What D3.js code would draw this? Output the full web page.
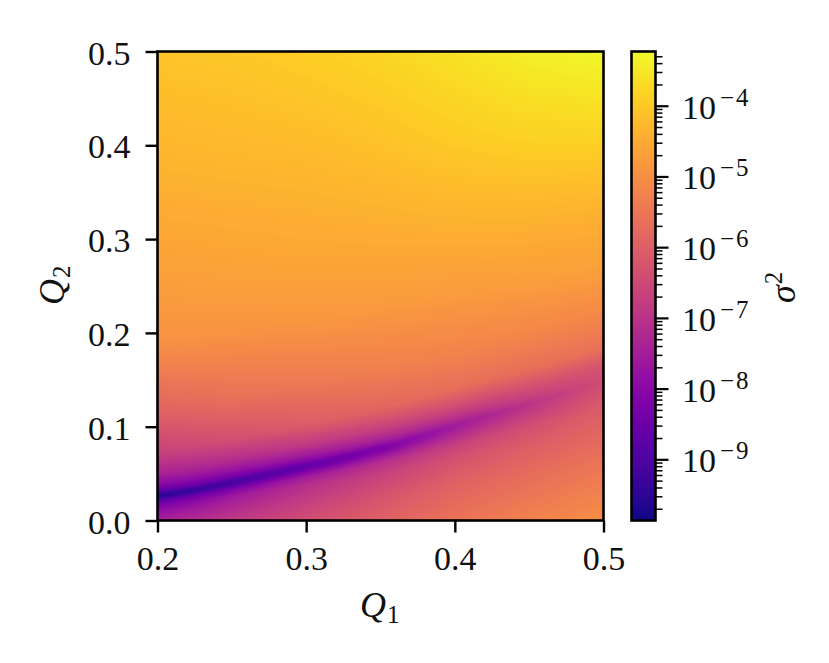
<!DOCTYPE html>
<html><head><meta charset="utf-8">
<script src="https://cdn.jsdelivr.net/npm/d3@7"></script>
<style>
html,body{margin:0;padding:0;background:#fff}
svg{display:block}
text{font-family:"Liberation Serif",serif;fill:#111}
</style></head><body>
<svg id="c" width="829" height="663"></svg>
<script>
// Q1 positions and the Q2 of the dark valley
const valleyQ1 = [.20,.22,.24,.26,.28,.30,.32,.34,.36,.38,.40,.42,.44,.46,.48,.50];
const valleyQ2 = [.026,.031,.037,.044,.051,.058,.065,.073,.081,.091,.101,.111,.120,.129,.139,.149];
// table columns
const q1Columns = [.20,.25,.30,.35,.40,.45,.50];
// table rows: -1 = Q2 of 0, 0 = on the valley, 1 = Q2 of 0.5
const bandRows = [-1,-.6,-.35,-.2,-.1,-.05,0,.006,.012,.025,.05,.1,.2,.35,.5,.75,1];
const logSigma2 = [
 [-7.40,-6.85,-6.35,-5.95,-5.55,-5.25,-5.00],
 [-7.85,-7.30,-6.80,-6.35,-5.95,-5.70,-5.50],
 [-8.30,-7.65,-7.10,-6.70,-6.30,-6.05,-5.85],
 [-8.75,-8.10,-7.55,-7.10,-6.70,-6.35,-6.05],
 [-9.20,-8.65,-8.15,-7.70,-7.20,-6.70,-6.25],
 [-9.45,-9.00,-8.55,-8.05,-7.45,-6.88,-6.35],
 [-9.55,-9.10,-8.65,-8.20,-7.55,-7.00,-6.40],
 [-9.25,-8.90,-8.50,-8.05,-7.45,-6.92,-6.39],
 [-8.65,-8.40,-8.10,-7.75,-7.30,-6.82,-6.38],
 [-8.00,-7.85,-7.60,-7.30,-6.98,-6.62,-6.33],
 [-7.40,-7.20,-6.90,-6.70,-6.45,-6.30,-6.20],
 [-6.65,-6.35,-6.05,-5.85,-5.65,-5.65,-5.60],
 [-5.85,-5.60,-5.45,-5.30,-5.20,-5.15,-5.15],
 [-4.95,-4.90,-4.85,-4.82,-4.78,-4.72,-4.65],
 [-4.68,-4.62,-4.56,-4.52,-4.45,-4.40,-4.40],
 [-4.32,-4.27,-4.22,-4.12,-3.97,-3.85,-3.80],
 [-4.05,-4.00,-3.90,-3.78,-3.58,-3.38,-3.25]
];
const q1Ticks = [.2,.3,.4,.5];
const q2Ticks = [0,.1,.2,.3,.4,.5];
const cbarDecades = [-9,-8,-7,-6,-5,-4];
const cbarDomain = [-9.858,-3.226];

const svg = d3.select("#c");
const L=157.5,R=603.5,T=51.5,B=520.5;
const x = d3.scaleLinear().domain([.2,.5]).range([L,R]);
const y = d3.scaleLinear().domain([0,.5]).range([B,T]);
const color = d3.scaleSequential(d3.interpolatePlasma).domain(cbarDomain);

// heat map
const valley = d3.scaleLinear().domain(valleyQ1).range(valleyQ2).clamp(true);
const rowIdx = d3.scaleLinear().domain(bandRows).range(d3.range(bandRows.length)).clamp(true);
const colIdx = d3.scaleLinear().domain(q1Columns).range(d3.range(q1Columns.length)).clamp(true);
const X0=Math.floor(L),Y0=Math.floor(T),W=Math.ceil(R)-X0,H=Math.ceil(B)-Y0;
const cv=document.createElement("canvas");cv.width=W;cv.height=H;
const ctx=cv.getContext("2d");const img=ctx.createImageData(W,H);
for(let j=0;j<H;j++)for(let i=0;i<W;i++){
  const q1=x.invert(X0+i+.5),q2=y.invert(Y0+j+.5),v=valley(q1);
  const band=d3.scaleLinear().domain([0,v,.5]).range([-1,0,1])(q2);
  const rf=rowIdx(band),cf=colIdx(q1);
  const r0=Math.min(Math.floor(rf),bandRows.length-2),c0=Math.min(Math.floor(cf),q1Columns.length-2);
  const a=rf-r0,b=cf-c0;
  const val=(1-a)*((1-b)*logSigma2[r0][c0]+b*logSigma2[r0][c0+1])+a*((1-b)*logSigma2[r0+1][c0]+b*logSigma2[r0+1][c0+1]);
  const col=d3.rgb(color(val));const k=(j*W+i)*4;
  img.data[k]=col.r;img.data[k+1]=col.g;img.data[k+2]=col.b;img.data[k+3]=255;
}
ctx.putImageData(img,0,0);
svg.append("image").attr("x",X0).attr("y",Y0).attr("width",W).attr("height",H).attr("href",cv.toDataURL());

// axes
const style=(g)=>{g.selectAll(".domain").remove();
  g.selectAll("line").attr("stroke","#000").attr("stroke-width",2.4);
  g.selectAll("text").attr("font-size",34).attr("fill","#111");};
svg.append("g").attr("transform",`translate(0,${B})`)
  .call(d3.axisBottom(x).tickValues(q1Ticks).tickSize(12).tickFormat(d3.format(".1f")))
  .call(style).selectAll("text").attr("y",49.5).attr("dy",0);
svg.append("g").attr("transform",`translate(${L},0)`)
  .call(d3.axisLeft(y).tickValues(q2Ticks).tickSize(12).tickFormat(d3.format(".1f")))
  .call(style).selectAll("text").attr("x",-27).attr("y",12.5).attr("dy",0);
svg.append("rect").attr("x",L).attr("y",T).attr("width",R-L).attr("height",B-T)
  .attr("fill","none").attr("stroke","#000").attr("stroke-width",2.6);

// axis titles
const mathLabel=(sel,main,sub)=>{
  sel.append("tspan").attr("font-style","italic").attr("font-size",36).text(main);
  sel.append("tspan").attr("font-size",25).attr("dy",6).attr("dx",1).text(sub);
};
svg.append("text").attr("x",360).attr("y",617).call(mathLabel,"Q","1");
svg.append("text").attr("transform","translate(64,305) rotate(-90)").call(mathLabel,"Q","2");

// colour bar
const cy=d3.scaleLinear().domain(cbarDomain).range([B,T]);
const cbX0=631.5,cbX1=655.5;
svg.append("g").selectAll("rect").data(d3.range(Y0,Y0+H)).join("rect")
  .attr("x",cbX0).attr("width",cbX1-cbX0).attr("y",d=>d).attr("height",1)
  .attr("shape-rendering","crispEdges")
  .attr("fill",d=>color(cy.invert(d+.5)));
const minor=[];
for(let d=-10;d<=-4;d++)for(let m=2;m<=9;m++){const t=d+Math.log10(m);if(t>cbarDomain[0]&&t<cbarDomain[1])minor.push(t);}
svg.append("g").selectAll("line").data(minor).join("line")
  .attr("x1",cbX1).attr("x2",cbX1+7).attr("y1",d=>cy(d)).attr("y2",d=>cy(d))
  .attr("stroke","#000").attr("stroke-width",1.5);
svg.append("g").selectAll("line").data(cbarDecades).join("line")
  .attr("x1",cbX1).attr("x2",cbX1+13).attr("y1",d=>cy(d)).attr("y2",d=>cy(d))
  .attr("stroke","#000").attr("stroke-width",2.2);
svg.append("rect").attr("x",cbX0).attr("y",T).attr("width",cbX1-cbX0).attr("height",B-T)
  .attr("fill","none").attr("stroke","#000").attr("stroke-width",2.6);
const cl=svg.append("g").selectAll("text").data(cbarDecades).join("text")
  .attr("x",682).attr("y",d=>cy(d)+12.5);
cl.append("tspan").attr("font-size",34).text("10");
cl.append("tspan").attr("font-size",25).attr("dy",-13).attr("dx",4).style("letter-spacing","2px").text(d=>"\u2212"+Math.abs(d));

const sg=svg.append("text").attr("transform","translate(795,303) rotate(-90)");
sg.append("tspan").attr("font-style","italic").attr("font-size",36).text("\u03c3");
sg.append("tspan").attr("font-size",25).attr("dy",-13).attr("dx",1).text("2");
</script>
</body></html>
